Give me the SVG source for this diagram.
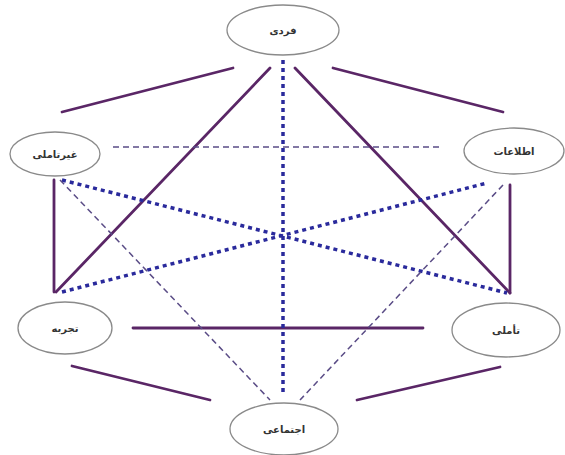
<svg xmlns="http://www.w3.org/2000/svg" width="565" height="455" viewBox="0 0 565 455">
<style>
.node ellipse{fill:#fff;stroke:#8a8a8a;stroke-width:1.3}
.node text{font-family:"DejaVu Sans","Noto Sans",sans-serif;font-size:10px;font-weight:bold;fill:#333;text-anchor:middle;dominant-baseline:central}
.solid{stroke:#5a2666;stroke-width:2.8;fill:none;stroke-linecap:round}
.dot{stroke:#2a2a9c;stroke-width:3.5;fill:none;stroke-dasharray:4 4}
.dash{stroke:#5a4c86;stroke-width:1.5;fill:none;stroke-dasharray:6 4}
</style>
<rect width="565" height="455" fill="#fff"/>
<g id="connectors">
<line class="solid" x1="62" y1="112" x2="233" y2="68"/>
<line class="solid" x1="333" y1="68" x2="503" y2="112"/>
<line class="solid" x1="54" y1="180" x2="54" y2="292"/>
<line class="solid" x1="510" y1="185" x2="510" y2="293"/>
<line class="solid" x1="270" y1="68" x2="56" y2="292"/>
<line class="solid" x1="295" y1="68" x2="510" y2="293"/>
<line class="solid" x1="133" y1="328" x2="423" y2="328"/>
<line class="solid" x1="72" y1="366" x2="210" y2="400"/>
<line class="solid" x1="357" y1="400" x2="500" y2="367"/>
<line class="dot" x1="283" y1="60" x2="283" y2="396"/>
<line class="dot" x1="62" y1="180" x2="507" y2="293"/>
<line class="dot" x1="62" y1="292" x2="487" y2="183"/>
<line class="dash" x1="113" y1="147" x2="440" y2="147"/>
<line class="dash" x1="60" y1="180" x2="270" y2="400"/>
<line class="dash" x1="503" y1="185" x2="300" y2="400"/>
</g>
<g id="n-fardi" class="node"><ellipse cx="283" cy="30" rx="56" ry="25"/><text x="283" y="30">فردی</text></g>
<g id="n-gheyrtaamoli" class="node"><ellipse cx="55" cy="154" rx="45" ry="22"/><text x="55" y="154">غیرتاملی</text></g>
<g id="n-etelaat" class="node"><ellipse cx="514" cy="151" rx="50" ry="23"/><text x="514" y="151">اطلاعات</text></g>
<g id="n-tajrobe" class="node"><ellipse cx="65" cy="328" rx="47" ry="26"/><text x="65" y="328">تجربه</text></g>
<g id="n-taamoli" class="node"><ellipse cx="506" cy="330" rx="54" ry="27"/><text x="506" y="330">تأملی</text></g>
<g id="n-ejtemaei" class="node"><ellipse cx="284" cy="429" rx="54" ry="26"/><text x="284" y="429">اجتماعی</text></g>
</svg>
